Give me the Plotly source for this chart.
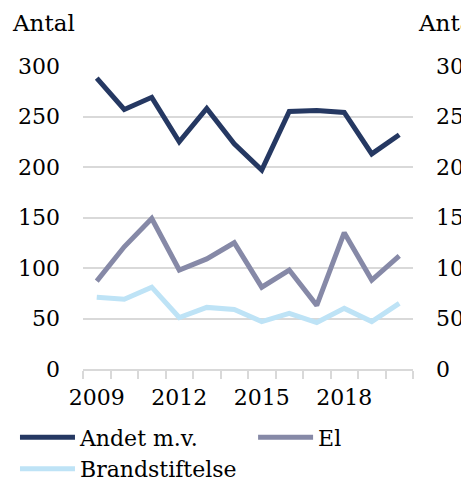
import plotly.graph_objects as go

years = [2009, 2010, 2011, 2012, 2013, 2014, 2015, 2016, 2017, 2018, 2019, 2020]
andet = [288, 257, 269, 225, 258, 223, 197, 255, 256, 254, 213, 232]
el = [87, 121, 149, 98, 109, 125, 81, 98, 63, 135, 88, 112]
brand = [71, 69, 81, 51, 61, 59, 47, 55, 46, 60, 47, 65]
tick_years = [2009, 2012, 2015, 2018]
y_ticks = [0, 50, 100, 150, 200, 250, 300]
names = ["Andet m.v.", "El", "Brandstiftelse"]
colors = ["#253862", "#8689a7", "#bee3f6"]
legend_ids = ["legend", "legend2", "legend"]

FONT = "DejaVu Serif"
fig = go.Figure()
for name, vals, col, lg in zip(names, [andet, el, brand], colors, legend_ids):
    fig.add_trace(go.Scatter(x=years, y=vals, name=name, mode="lines", legend=lg,
                             line=dict(color=col, width=5)))
# invisible trace for right axis
fig.add_trace(go.Scatter(x=years, y=andet, yaxis="y2", showlegend=False,
                         mode="lines", line=dict(width=0), hoverinfo="skip"))

legend_style = dict(orientation="v", xref="container", yref="container", y=0.127,
                    xanchor="left", yanchor="top", itemwidth=55, tracegroupgap=0,
                    font=dict(family=FONT, size=22), bgcolor="rgba(0,0,0,0)")

fig.update_layout(
    width=461, height=477,
    margin=dict(l=83, r=48, t=66, b=108, autoexpand=False),
    plot_bgcolor="white", paper_bgcolor="white",
    font=dict(family=FONT, size=22, color="#000000"),
    xaxis=dict(range=[2008.5, 2020.5], tickvals=tick_years, ticks="", automargin=False,
               showgrid=False, showline=True, linecolor="#d9d9d9", linewidth=1.5,
               ticklabelstandoff=8, zeroline=False,
               minor=dict(ticks="outside", tick0=2008.5, dtick=1, ticklen=8,
                          tickcolor="#d9d9d9", tickwidth=1.5, showgrid=False)),
    yaxis=dict(range=[0, 300], tickvals=y_ticks, showgrid=True, gridcolor="#d9d9d9",
               gridwidth=1.5, zeroline=False, ticks="", ticklabelstandoff=22, automargin=False),
    yaxis2=dict(range=[0, 300], tickvals=y_ticks, overlaying="y", side="right", automargin=False,
                showgrid=False, zeroline=False, ticks="", ticklabelstandoff=22),
    legend=dict(legend_style, x=0.0325),
    legend2=dict(legend_style, x=0.549),
    showlegend=True,
    annotations=[
        dict(text="Antal", xref="paper", yref="paper", x=-0.22, y=1.093, xanchor="left",
             yanchor="bottom", showarrow=False, font=dict(family=FONT, size=23)),
        dict(text="Antal", xref="paper", yref="paper", x=1.008, y=1.093, xanchor="left",
             yanchor="bottom", showarrow=False, font=dict(family=FONT, size=23)),
    ],
)
fig.write_html("out.html", config={"displayModeBar": False},
               post_script="document.body.style.margin='0';")
